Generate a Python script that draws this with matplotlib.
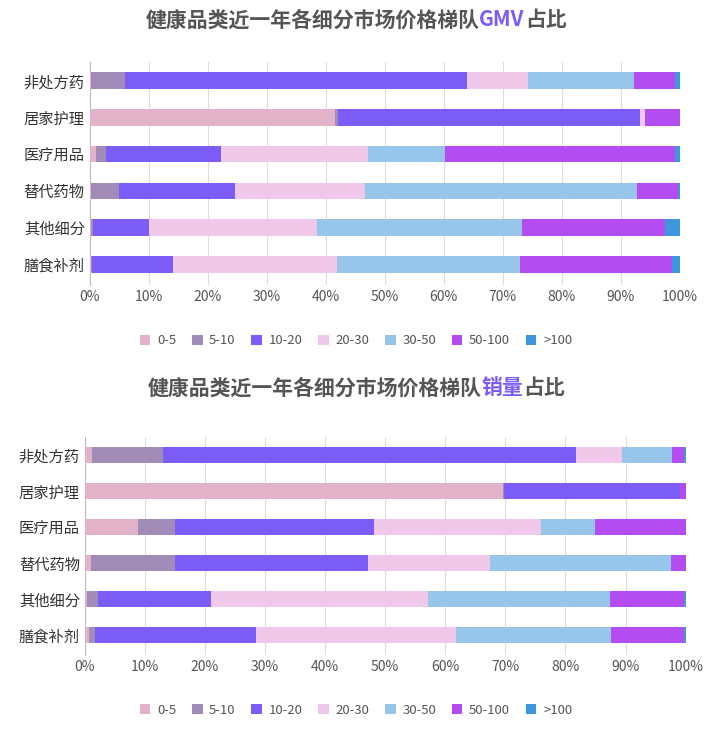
import matplotlib
matplotlib.use("Agg")
import matplotlib.pyplot as plt
from matplotlib import font_manager as fm
import numpy as np

cjk = None
for f in fm.findSystemFonts():
    n = f.lower()
    if 'cjk' in n and ('sc' in n or 'notosanscjk-' in n or 'cjk-' in n):
        try:
            fm.fontManager.addfont(f)
            nm = fm.FontProperties(fname=f).get_name()
            if cjk is None or 'SC' in nm:
                cjk = nm
        except Exception:
            pass
plt.rcParams['font.family'] = [cjk or 'Noto Sans CJK SC', 'Noto Sans CJK JP', 'DejaVu Sans']

categories = ['非处方药', '居家护理', '医疗用品', '替代药物', '其他细分', '膳食补剂']
tiers = ['0-5', '5-10', '10-20', '20-30', '30-50', '50-100', '>100']
colors = ['#e2b2c9', '#a08bb9', '#7b5cf6', '#f0c9ea', '#98c6eb', '#b44df1', '#3d97dc']

gmv = {
    '非处方药': [0.3, 5.7, 57.9, 10.3, 18.0, 7.0, 0.8],
    '居家护理': [41.5, 0.5, 51.2, 0.9, 0.0, 5.9, 0.0],
    '医疗用品': [1.0, 1.7, 19.5, 24.9, 13.1, 39.0, 0.8],
    '替代药物': [0.2, 4.7, 19.7, 22.0, 46.1, 7.0, 0.3],
    '其他细分': [0.2, 0.3, 9.5, 28.5, 34.7, 24.3, 2.5],
    '膳食补剂': [0.2, 0.2, 13.7, 27.8, 31.0, 25.7, 1.4],
}
volume = {
    '非处方药': [1.2, 11.8, 68.7, 7.7, 8.4, 2.0, 0.2],
    '居家护理': [69.6, 0.2, 29.2, 0.0, 0.0, 1.0, 0.0],
    '医疗用品': [8.8, 6.3, 33.0, 27.9, 8.9, 15.1, 0.0],
    '替代药物': [1.0, 14.0, 32.1, 20.3, 30.1, 2.5, 0.0],
    '其他细分': [0.3, 1.9, 18.8, 36.2, 30.2, 12.3, 0.3],
    '膳食补剂': [0.7, 1.0, 26.8, 33.2, 25.8, 12.2, 0.3],
}
xticks = [0, 10, 20, 30, 40, 50, 60, 70, 80, 90, 100]

fig = plt.figure(figsize=(7.12, 7.32), dpi=100)

def draw(ax, data):
    y = np.arange(len(categories))
    left = np.zeros(len(categories))
    for i, t in enumerate(tiers):
        vals = np.array([data[c][i] for c in categories])
        ax.barh(y, vals, left=left, height=0.45, color=colors[i], label=t, zorder=3)
        left += vals
    ax.set_yticks(y)
    ax.set_yticklabels(categories, fontsize=11, color='#333333')
    ax.set_xlim(0, 100)
    ax.set_ylim(len(categories) - 0.45, -0.5)
    ax.set_xticks(xticks)
    ax.set_xticklabels([f'{v}%' for v in xticks], fontsize=10, color='#555555')
    ax.grid(axis='x', color='#dddddd', lw=0.8, zorder=0)
    for s in ['top', 'right', 'bottom']:
        ax.spines[s].set_visible(False)
    ax.spines['left'].set_color('#bbbbbb')
    ax.tick_params(length=0)

ax1 = fig.add_axes([0.126, 0.611, 0.829, 0.304])
ax2 = fig.add_axes([0.119, 0.105, 0.844, 0.298])
draw(ax1, gmv)
draw(ax2, volume)

for ax, ly in [(ax1, 341), (ax2, 710)]:
    h, l = ax.get_legend_handles_labels()
    fig.legend(h, l, loc='center', bbox_to_anchor=(0.5, 1 - ly / 732), ncol=7, frameon=False,
               fontsize=9.5, handlelength=0.8, handleheight=0.8, columnspacing=1.2,
               handletextpad=0.5, labelcolor='#555555')

fig.canvas.draw()
r = fig.canvas.get_renderer()

def title(parts, ypx):
    texts = []
    for s, c in parts:
        t = fig.text(0, 1 - ypx / 732, s, fontsize=15, fontweight='bold', color=c, va='center')
        texts.append(t)
    widths = [t.get_window_extent(r).width for t in texts]
    total = sum(widths)
    x = (712 - total) / 2
    for t, w in zip(texts, widths):
        t.set_x(x / 712)
        x += w

title([('健康品类近一年各细分市场价格梯队', '#555555'), ('GMV', '#7b5cf6'), ('占比', '#555555')], 20)
title([('健康品类近一年各细分市场价格梯队', '#555555'), ('销量', '#7b5cf6'), ('占比', '#555555')], 388)

fig.savefig('out.png', dpi=100)
